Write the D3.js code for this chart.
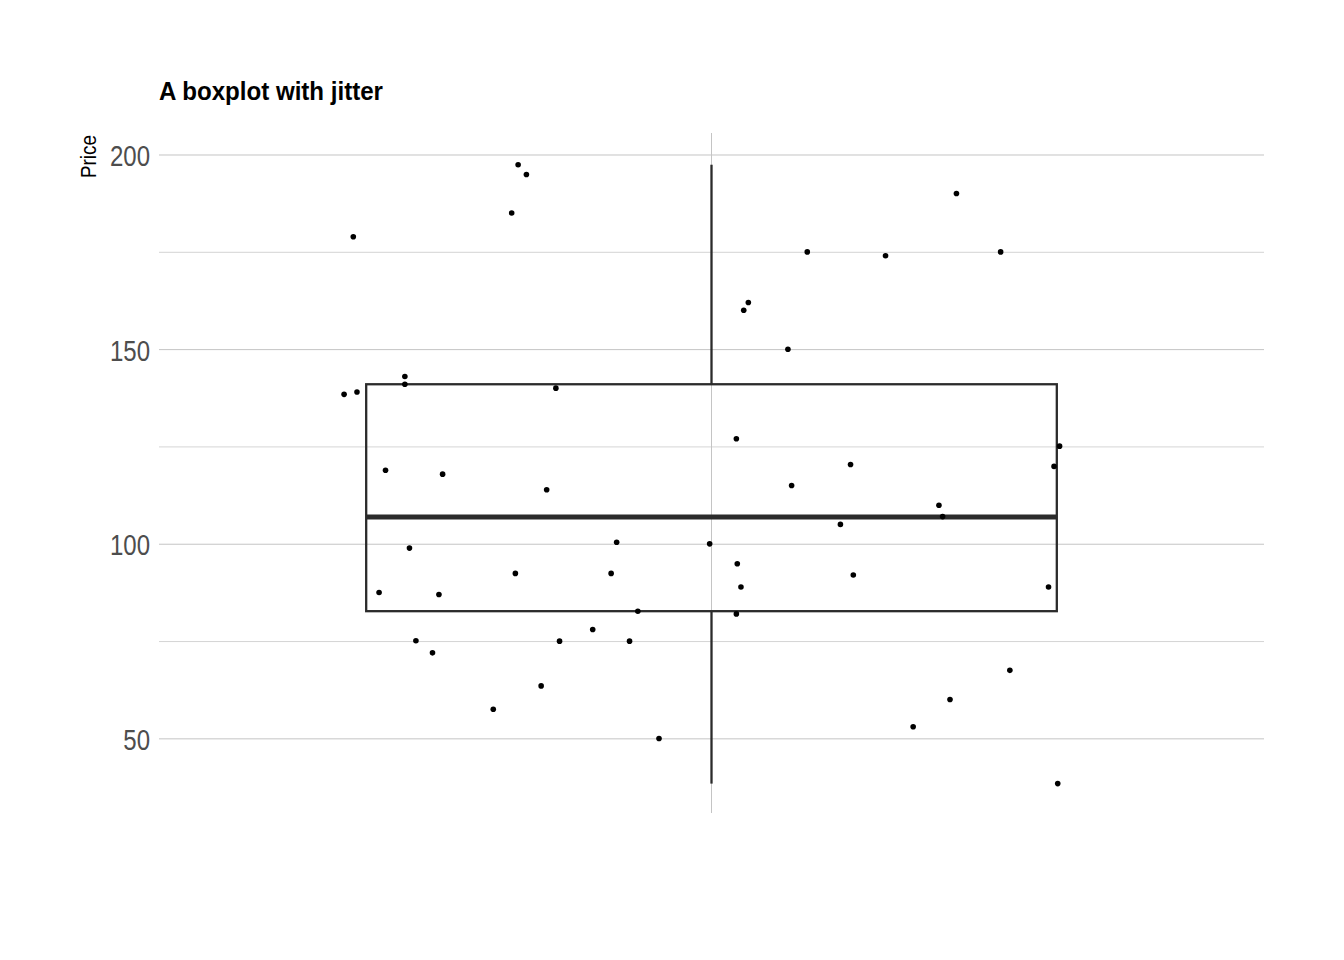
<!DOCTYPE html>
<html>
<head>
<meta charset="utf-8">
<script src="https://cdn.jsdelivr.net/npm/d3@7"></script>
<style>
  html, body { margin: 0; padding: 0; background: #ffffff; }
  svg { display: block; }
</style>
</head>
<body>
<svg id="chart" width="1344" height="960"></svg>
<script>
// ---- data ----
const title = "A boxplot with jitter";
const yLabel = "Price";
const yTicks = [50, 100, 150, 200];
const yMinorTicks = [75, 125, 175];
// box summary: lower whisker, Q1, median, Q3, upper whisker
const boxStats = [38.5, 82.8, 107.0, 141.1, 197.5];
// jittered points: horizontal jitter offset (category units) and price
const jitterX = [
  -0.389, -0.210, -0.201, -0.217, -0.399, -0.385, -0.333, -0.333, -0.169,
  -0.354, -0.292, -0.179, -0.328, -0.361, -0.296, -0.213, -0.109, -0.103,
  -0.002, -0.080, -0.129, -0.321, -0.165, -0.089, -0.303, -0.185, -0.237, -0.057,
  0.266, 0.104, 0.189, 0.314, 0.040, 0.035, 0.083, 0.027, 0.151, 0.087,
  0.247, 0.251, 0.140, 0.378, 0.372, 0.028, 0.032, 0.154, 0.366, 0.027,
  0.324, 0.259, 0.219, 0.376
];
const price = [
  179.0, 197.5, 195.0, 185.1, 138.5, 139.1, 143.1, 141.1, 140.1,
  119.0, 118.0, 114.0, 99.0, 87.6, 87.1, 92.5, 92.5, 100.5,
  100.1, 82.8, 78.1, 75.2, 75.1, 75.1, 72.1, 63.6, 57.6, 50.1,
  190.1, 175.1, 174.1, 175.1, 162.1, 160.1, 150.1, 127.1, 120.5, 115.1,
  110.0, 107.1, 105.1, 125.2, 120.0, 95.0, 89.0, 92.1, 89.0, 82.1,
  67.6, 60.1, 53.1, 38.5
];

// ---- layout ----
const svg = d3.select("#chart");
const panel = { left: 159, right: 1264, top: 133, bottom: 813 };
const fontNarrow = "'Liberation Sans Narrow', 'Arial Narrow', 'Liberation Sans', sans-serif";

const x = d3.scaleLinear().domain([0.4, 1.6]).range([panel.left, panel.right]);
const y = d3.scaleLinear().domain([30.95, 205.65]).range([panel.bottom, panel.top]);

// grid
const grid = svg.append("g");
grid.selectAll("line.minor").data(yMinorTicks).enter().append("line")
  .attr("x1", panel.left).attr("x2", panel.right)
  .attr("y1", d => y(d)).attr("y2", d => y(d))
  .attr("stroke", "#cfcfcf").attr("stroke-width", 0.9);
grid.selectAll("line.major").data(yTicks).enter().append("line")
  .attr("x1", panel.left).attr("x2", panel.right)
  .attr("y1", d => y(d)).attr("y2", d => y(d))
  .attr("stroke", "#c4c4c4").attr("stroke-width", 1);
grid.append("line")
  .attr("x1", x(1)).attr("x2", x(1))
  .attr("y1", panel.top).attr("y2", panel.bottom)
  .attr("stroke", "#c4c4c4").attr("stroke-width", 1);

// y axis labels via d3 axis
const yAxis = d3.axisLeft(y).tickValues(yTicks).tickSize(0).tickPadding(0);
const gy = svg.append("g").attr("transform", `translate(${panel.left - 9},0)`).call(yAxis);
gy.select(".domain").remove();
gy.selectAll("text")
  .attr("font-family", fontNarrow)
  .attr("font-size", 30)
  .attr("fill", "#4d4d4d")
  .attr("dy", "0.35em")
  .attr("transform", "scale(0.8,1)");

// box
const [lo, q1, med, q3, hi] = boxStats;
const bw = 0.75;
const box = svg.append("g");
box.append("line")
  .attr("x1", x(1)).attr("x2", x(1)).attr("y1", y(q3)).attr("y2", y(hi))
  .attr("stroke", "#2b2b2b").attr("stroke-width", 2.3);
box.append("line")
  .attr("x1", x(1)).attr("x2", x(1)).attr("y1", y(q1)).attr("y2", y(lo))
  .attr("stroke", "#2b2b2b").attr("stroke-width", 2.3);
box.append("rect")
  .attr("x", x(1 - bw / 2)).attr("width", x(1 + bw / 2) - x(1 - bw / 2))
  .attr("y", y(q3)).attr("height", y(q1) - y(q3))
  .attr("fill", "none").attr("stroke", "#2b2b2b").attr("stroke-width", 2.3);
box.append("line")
  .attr("x1", x(1 - bw / 2)).attr("x2", x(1 + bw / 2))
  .attr("y1", y(med)).attr("y2", y(med))
  .attr("stroke", "#2b2b2b").attr("stroke-width", 4.8);

// points
const pts = price.map((p, i) => ({ jx: jitterX[i], p }));
svg.append("g").selectAll("circle").data(pts).enter().append("circle")
  .attr("cx", d => x(1 + d.jx))
  .attr("cy", d => y(d.p))
  .attr("r", 2.8)
  .attr("fill", "#000000");

// title
svg.append("text")
  .attr("x", 159).attr("y", 100)
  .attr("font-family", fontNarrow)
  .attr("font-weight", "bold")
  .attr("font-size", 25)
  .attr("textLength", 224)
  .attr("lengthAdjust", "spacingAndGlyphs")
  .attr("fill", "#000000")
  .text(title);

// y label
svg.append("text")
  .attr("transform", `translate(96,${panel.top + 2}) rotate(-90) scale(0.86,1)`)
  .attr("text-anchor", "end")
  .attr("font-family", fontNarrow)
  .attr("font-size", 22)
  .attr("fill", "#000000")
  .text(yLabel);
</script>
</body>
</html>
